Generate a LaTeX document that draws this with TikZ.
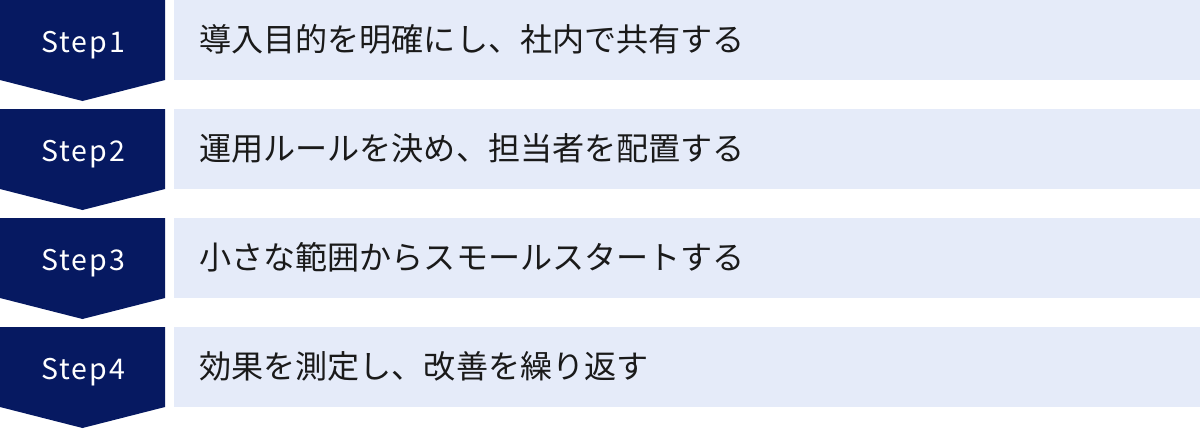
\documentclass[tikz,border=0pt]{standalone}
\usepackage{fontspec}
\newfontfamily\jpfont{Noto Sans CJK JP}
\newfontfamily\stepfont{Noto Sans CJK JP}[LetterSpace=7]
\definecolor{navy}{HTML}{061961}
\definecolor{lightbg}{HTML}{E5EBF9}
\definecolor{ink}{HTML}{1A1A1A}
\tikzset{
  stepshape/.style={fill=navy},
  bodybox/.style={fill=lightbg},
  steptext/.style={text=white, inner sep=0pt, anchor=base, font=\stepfont\fontsize{28.5}{33}\selectfont},
  bodytext/.style={text=ink, inner sep=0pt, anchor=base west, font=\jpfont\fontsize{32.1}{36}\selectfont}
}
\begin{document}
\begin{tikzpicture}[x=1pt,y=-1pt]
\useasboundingbox (0,0) rectangle (1200,429);
\foreach \n/\t in {1/導入目的を明確にし、社内で共有する,2/運用ルールを決め、担当者を配置する,3/小さな範囲からスモールスタートする,4/効果を測定し、改善を繰り返す}{
  \pgfmathsetmacro{\yo}{109*(\n-1)}
  \fill[stepshape] (0,\yo) -- (165,\yo) -- (165,\yo+80) -- (82.5,\yo+101) -- (0,\yo+80) -- cycle;
  \fill[bodybox] (174,\yo) rectangle (1200,\yo+80);
  \node[steptext] (s\n) at (83,\yo+52) {Step\n};
  \node[bodytext] (t\n) at (199,\yo+51.5) {\t};
}
\end{tikzpicture}
\end{document}
